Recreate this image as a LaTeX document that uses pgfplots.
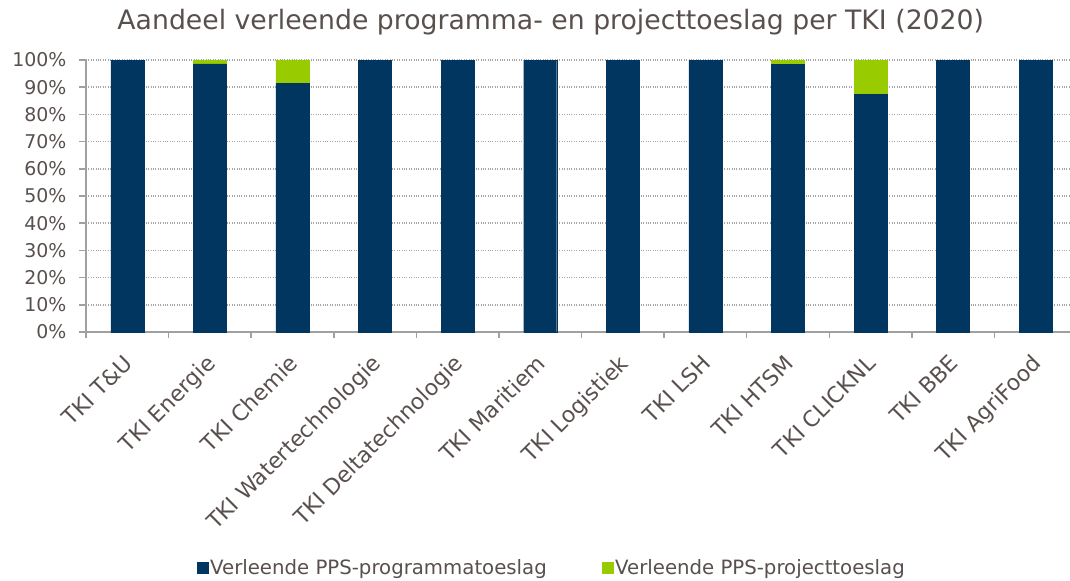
\documentclass[border=0pt]{standalone}
\usepackage{pgfplots}
\pgfplotsset{compat=1.18}
\usepackage{fontspec}
\setmainfont{DejaVu Sans}
\definecolor{navy}{RGB}{0,54,96}
\definecolor{lgreen}{RGB}{153,204,0}
\definecolor{txt}{RGB}{89,80,78}
\definecolor{gridc}{RGB}{165,165,165}
\definecolor{axc}{RGB}{160,160,160}
\begin{document}
\begin{tikzpicture}
\path[use as bounding box] (0,0) rectangle (1070bp,-581bp);
\begin{axis}[
  at={(86bp,-332bp)}, anchor=south west,
  scale only axis, width=991bp, height=272bp,
  xmin=-0.5, xmax=11.5, ymin=0, ymax=100,
  ybar stacked, bar width=33bp,
  axis x line*=bottom, axis y line*=left,
  axis line style={axc, line width=1.5bp, -},
  xtick={0,...,11},
  xticklabels={TKI T\&U, TKI Energie, TKI Chemie, TKI Watertechnologie, TKI Deltatechnologie, TKI Maritiem, TKI Logistiek, TKI LSH, TKI HTSM, TKI CLICKNL, TKI BBE, TKI AgriFood},
  major x tick style={draw=none},
  minor xtick={-0.5,0.5,...,11.5},
  minor x tick style={axc, line width=1.5bp},
  minor tick length=6bp,
  tick align=outside,
  x tick label style={xshift=-5bp, yshift=-14bp, rotate=45, anchor=north east, font=\fontsize{22}{25}\selectfont, text=txt, inner sep=0pt},
  ytick={0,10,...,100},
  yticklabels={0\%,10\%,20\%,30\%,40\%,50\%,60\%,70\%,80\%,90\%,100\%},
  y tick label style={xshift=-9bp, font=\fontsize{19}{22}\selectfont, text=txt},
  major y tick style={axc, line width=1.5bp},
  major tick length=7bp,
  ymajorgrids,
  grid style={gridc, dotted, line width=1.5bp},
  title={Aandeel verleende programma- en projecttoeslag per TKI (2020)},
  title style={at={(0.469,1)}, anchor=base, yshift=25bp, font=\fontsize{26.8}{30}\selectfont, text=txt},
  legend style={at={(0.470,-0.868)}, anchor=center, draw=none, legend columns=2,
     font=\fontsize{19.8}{22}\selectfont, text=txt,
     /tikz/every even column/.append style={column sep=53bp}},
  legend image code/.code={\fill[#1] (0bp,-5.5bp) rectangle (11bp,5.5bp);},
]
\addplot[fill=navy, draw=navy] coordinates {(0,100) (1,98.6) (2,91.3) (3,100) (4,100) (5,100) (6,100) (7,100) (8,98.3) (9,87.5) (10,100) (11,100)};
\addplot[fill=lgreen, draw=lgreen] coordinates {(0,0) (1,1.4) (2,8.7) (3,0) (4,0) (5,0) (6,0) (7,0) (8,1.7) (9,12.5) (10,0) (11,0)};
\legend{Verleende PPS-programmatoeslag, Verleende PPS-projecttoeslag}
\end{axis}
\end{tikzpicture}
\end{document}
